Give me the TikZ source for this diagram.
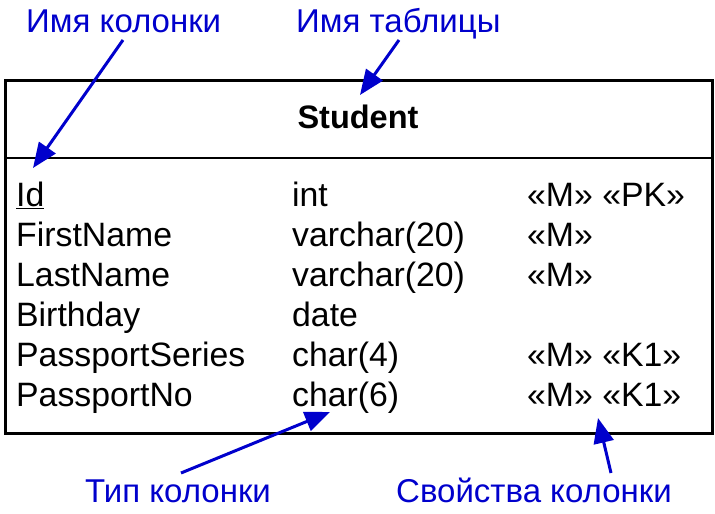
\documentclass[tikz,border=0pt]{standalone}
\usepackage{fontspec}
\setmainfont{Liberation Sans}
\usepackage{tikz}
\usetikzlibrary{arrows.meta,calc}
\definecolor{noteblue}{RGB}{0,0,204}

\begin{document}
\begin{tikzpicture}[x=1pt,y=-1pt,
                    >={Triangle[length=25pt,width=20pt]}]
  \tikzstyle{cell}=[anchor=base west,inner sep=0pt,font=\fontsize{33.8}{40}\selectfont]
  \tikzstyle{note}=[anchor=base west,inner sep=0pt,text=noteblue,font=\fontsize{33}{40}\selectfont]
  \tikzstyle{pointer}=[->,draw=noteblue,line width=3pt]

  \useasboundingbox (0,0) rectangle (715,514);

  % table frame
  \draw[line width=3pt] (5,80) rectangle (712,433);
  \draw[line width=1.5pt] (5,158) -- (712,158);
  \node[anchor=base,inner sep=0pt,font=\fontsize{32.5}{40}\selectfont\bfseries] (title) at (358,128) {Student};

  % columns
  \node[cell] (n1) at (16,206) {\underline{Id}};
  \node[cell] (n2) at (16,246) {FirstName};
  \node[cell] (n3) at (16,286) {LastName};
  \node[cell] (n4) at (16,326) {Birthday};
  \node[cell] (n5) at (16,366) {PassportSeries};
  \node[cell] (n6) at (16,406) {PassportNo};

  \node[cell] (t1) at (292,206) {int};
  \node[cell] (t2) at (292,246) {varchar(20)};
  \node[cell] (t3) at (292,286) {varchar(20)};
  \node[cell] (t4) at (292,326) {date};
  \node[cell] (t5) at (292,366) {char(4)};
  \node[cell] (t6) at (292,406) {char(6)};

  \node[cell] (p1) at (527,206) {«M» «PK»};
  \node[cell] (p2) at (527,246) {«M»};
  \node[cell] (p3) at (527,286) {«M»};
  \node[cell] (p5) at (527,366) {«M» «K1»};
  \node[cell] (p6) at (527,406) {«M» «K1»};

  % notes
  \node[note] (colname)  at (26,32)  {Имя колонки};
  \node[note] (tabname)  at (296,32) {Имя таблицы};
  \node[note] (coltype)  at (85,502) {Тип колонки};
  \node[note] (colprops) at (396,502) {Свойства колонки};

  \coordinate (a1) at (123,40);  \coordinate (b1) at (33,168);
  \coordinate (a2) at (399,40);  \coordinate (b2) at (360,95);
  \coordinate (a3) at (181,473); \coordinate (b3) at (330,412);
  \coordinate (a4) at (611,473); \coordinate (b4) at (598,418);

  \draw[pointer] (a1) -- (b1);
  \draw[pointer] (a2) -- (b2);
  \draw[pointer] (a3) -- (b3);
  \draw[pointer] (a4) -- (b4);
\end{tikzpicture}
\end{document}
